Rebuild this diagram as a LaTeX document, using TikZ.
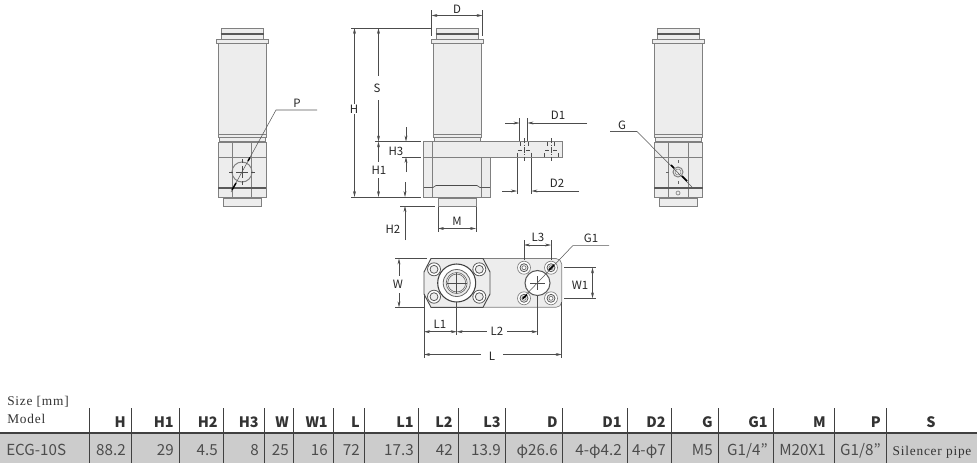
\documentclass[tikz,border=0pt]{standalone}
\usepackage{fontspec}
\setmainfont{Noto Sans CJK JP}
\newfontfamily\serifx[LetterSpace=6]{Liberation Serif}
\usetikzlibrary{arrows.meta}
\definecolor{partfill}{gray}{0.93}
\definecolor{partline}{gray}{0.5}
\definecolor{bandgray}{gray}{0.8}
\definecolor{dimcol}{gray}{0.3}
\definecolor{rulecol}{gray}{0.25}
\definecolor{valcol}{gray}{0.3}
\tikzset{
  part/.style={draw=partline,fill=partfill,line width=0.75pt},
  thin part/.style={draw=partline,line width=0.5pt},
  band/.style={draw=black!65,line width=1.1pt},
  dim/.style={draw=dimcol,line width=0.4pt},
  dimarrow/.style={dim,{Stealth[length=4.5pt,width=2.2pt]}-{Stealth[length=4.5pt,width=2.2pt]}},
  arrowend/.style={dim,-{Stealth[length=4.5pt,width=2.2pt]}},
  lab/.style={font=\fontsize{8.6pt}{10pt}\selectfont,text=black!85,inner sep=0.5pt},
  hdr/.style={font=\fontsize{10.8pt}{12pt}\selectfont\bfseries,text=black!80,anchor=base east,inner sep=0pt},
  val/.style={font=\fontsize{11.4pt}{12pt}\selectfont,text=valcol,anchor=base east,inner sep=0pt},
  sertxt/.style={font=\fontsize{10pt}{11pt}\selectfont\serifx,text=black!80,anchor=base west,inner sep=0pt},
  leader/.style={draw=black!65,line width=0.4pt},
  thick leader/.style={draw=black,line width=1.1pt}
}
% upper cylinder, x = left edge of body
\newcommand{\cylinder}[1]{
  \begin{scope}[shift={(#1,0)}]
    \draw[part] (3.5,28.5) rectangle (45,39.5);
    \draw[band] (2.5,34) -- (46,34);
    \draw[part] (-1.5,39.5) rectangle (50,43.5);
    \draw[part] (0,43.5) rectangle (48.5,134);
    \draw[part] (0,134) rectangle (48.5,137);
    \draw[part] (1,137) rectangle (47.5,141.5);
  \end{scope}
}
\begin{document}
\begin{tikzpicture}[x=0.75pt,y=-0.75pt]
\useasboundingbox (0,0) rectangle (977,469);
\fill[white] (0,0) rectangle (977,469);
%%%%% LEFT VIEW
\cylinder{218}
\draw[part] (218,142) rectangle (266,197);
\draw[thin part] (232,142) -- (232,197) (251,142) -- (251,197) (218,157) -- (266,157);
\draw[band] (218,188) -- (266,188);
\draw[part] (223,198) rectangle (261,206);
\draw[part,fill=none] (242,172) circle (10);
\draw[thin part,draw=black!70] (229,172) -- (233,172) (251,172) -- (255,172) (242,159) -- (242,163) (242,181) -- (242,185) (236,172) -- (248,172) (242,166) -- (242,178);
\coordinate (pfree) at (317,110);
\coordinate (pelbow) at (276,110);
\coordinate (ptip) at (231,192);
\draw[leader] (pfree) -- (pelbow) -- (ptip);
\draw[thick leader] (248,161) -- (250,157.5) (236,183) -- (232,190);
\node[lab] (labP) at (297,103) {P};
%%%%% MIDDLE VIEW
\cylinder{433}
\draw[part] (423.5,141.5) -- (562,141.5) -- (562,157) -- (490,157) -- (490,197) -- (423.5,197) -- cycle;
\draw[thin part] (432,141.5) -- (432,197) (481,157) -- (481,197) (423.5,157) -- (490,157);
\draw[band,line width=1pt] (423.5,187.5) -- (433,187.5) (480,187.5) -- (490,187.5);
\draw[thin part,draw=black!70] (433,187.5) -- (436,185.5) -- (477,185.5) -- (480,187.5);
\draw[part] (438,198) rectangle (476,206);
% holes
\draw[dim,dashed] (517,157) -- (517,150) -- (531.5,150) -- (531.5,157);
\draw[dim,dashed] (544,157) -- (544,150) -- (558,150) -- (558,157);
\draw[dim,dashed] (520,141.5) -- (520,150) (528,141.5) -- (528,150) (547.5,141.5) -- (547.5,150) (554.5,141.5) -- (554.5,150);
\draw[dim,dash pattern=on 4pt off 1pt on 1pt off 1pt] (524,138) -- (524,161) (551,138) -- (551,161);
% dimension: D
\draw[dim] (431.5,10) -- (431.5,36) (482.5,10) -- (482.5,36);
\draw[dimarrow] (431.5,15.5) -- (482.5,15.5);
\node[lab,fill=none] (labD) at (457,9) {D};
% H, S, H1
\draw[dim] (351,28) -- (431.5,28) (375,141.5) -- (421,141.5) (351,197) -- (421,197);
\draw[dimarrow] (354.5,28) -- (354.5,197);
\node[lab,fill=white] (labH) at (354,109) {H};
\draw[dimarrow] (378.5,28) -- (378.5,141.5);
\node[lab,fill=white,inner ysep=6pt] (labS) at (377,88) {S};
\draw[dimarrow] (378.5,141.5) -- (378.5,197);
\node[lab,fill=white,inner ysep=3pt] (labHa) at (379,170) {H1};
% H3
\draw[dim] (402,157) -- (421,157);
\coordinate (h3a) at (406,127);
\coordinate (h3b) at (406,141.5);
\coordinate (h3c) at (406,172);
\coordinate (h3d) at (406,157);
\draw[arrowend] (h3a) -- (h3b);
\draw[arrowend] (h3c) -- (h3d);
\node[lab] (labHc) at (396,151) {H3};
% H2
\draw[dim] (400,206) -- (435,206);
\coordinate (h2a) at (405,182);
\coordinate (h2b) at (405,197);
\coordinate (h2c) at (405,240);
\coordinate (h2d) at (405,206);
\draw[arrowend] (h2a) -- (h2b);
\draw[arrowend] (h2c) -- (h2d);
\node[lab] (labHb) at (393,229) {H2};
% M
\draw[dim] (438,207) -- (438,232) (476,207) -- (476,232);
\draw[dimarrow] (438,228.5) -- (476,228.5);
\node[lab] (labM) at (457,221) {M};
% D1
\draw[dim] (519.5,118) -- (519.5,141) (527.5,118) -- (527.5,141);
\coordinate (da) at (505,123);
\coordinate (db) at (519.5,123);
\coordinate (dc) at (587,123);
\coordinate (dd) at (527.5,123);
\draw[arrowend] (da) -- (db);
\draw[arrowend] (dc) -- (dd);
\node[lab] (labDa) at (558,115) {D1};
% D2
\draw[dim] (517,158) -- (517,194) (531.5,158) -- (531.5,194);
\coordinate (ea) at (502,191);
\coordinate (eb) at (517,191);
\coordinate (ec) at (579,191);
\coordinate (ed) at (531.5,191);
\draw[arrowend] (ea) -- (eb);
\draw[arrowend] (ec) -- (ed);
\node[lab] (labDb) at (557,183) {D2};
%%%%% RIGHT VIEW
\cylinder{654}
\draw[part] (654,142) rectangle (702.5,197);
\draw[thin part] (668.5,142) -- (668.5,197) (688,142) -- (688,197) (654,157) -- (702.5,157);
\draw[band] (654,188) -- (702.5,188);
\draw[part] (659,198) rectangle (697.5,206);
\draw[part,fill=none] (678,172) circle (5);
\draw[part,fill=none,line width=0.4pt] (678,172) circle (3);
\draw[part,fill=none,line width=0.5pt] (678,193) circle (2);
\draw[thin part,draw=black!60] (678,160) -- (678,163) (678,181) -- (678,184) (666,172) -- (669,172);
\coordinate (gfree) at (610,131.5);
\coordinate (gelbow) at (637,131.5);
\coordinate (gtip) at (692,187);
\draw[leader] (gfree) -- (gelbow) -- (gtip);
\draw[thick leader] (671,165) -- (674,168) (682,176) -- (687,181);
\node[lab] (labG) at (622,125) {G};
%%%%% BOTTOM VIEW
\draw[draw=partline,fill=partfill,line width=0.5pt] (483,258.5) -- (556,258.5) .. controls (559,258.5) and (561.7,261) .. (561.7,264) -- (561.7,302) .. controls (561.7,305) and (559,307.3) .. (556,307.3) -- (483,307.3) -- cycle;
\draw[draw=black!70,fill=partfill,line width=0.7pt] (431,258.5) -- (483,258.5) -- (490,272) -- (490,294) -- (483,307.3) -- (431,307.3) -- (424,294) -- (424,272) -- cycle;
\foreach \p in {(434,269.3),(479.3,269.3),(434,296.7),(479.3,296.7)}{
  \draw[draw=black!65,fill=white,line width=0.6pt] \p circle (6.5);
  \draw[draw=black!65,fill=partfill,line width=0.6pt] \p circle (4);
}
\draw[draw=black!75,fill=white,line width=0.8pt] (456.7,283) circle (19);
\draw[draw=black!60,fill=partfill,line width=0.6pt] (456.7,283) circle (13.5);
\draw[draw=black!60,fill=white,line width=0.5pt] (456.7,283) circle (10.5);
\draw[draw=black!60,fill=partfill,line width=0.5pt] (456.7,283) circle (9);
\draw[dim] (447,283) -- (467,283) (456.7,273) -- (456.7,293);
\foreach \p in {(524,267.7),(551,267.7),(524,298.3),(551,298.3)}{
  \draw[draw=black!50,fill=white,line width=0.5pt] \p circle (6.5);
  \draw[draw=black!65,fill=partfill,line width=0.6pt] \p circle (4);
  \draw[draw=black!55,fill=white,line width=0.5pt] \p circle (2);
}
\draw[draw=black!65,fill=white,line width=0.8pt] (537.5,283) circle (12.5);
\draw[dim] (530,283) -- (545,283) (537.5,276) -- (537.5,290);
% G1
\coordinate (hfree) at (609,245.7);
\coordinate (helbow) at (572.7,245.7);
\coordinate (htip) at (522,299);
\draw[leader] (hfree) -- (helbow) -- (htip);
\draw[thick leader] (554,265) -- (549,270) (527,294.5) -- (523,298.5);
\node[lab] (labGa) at (591,238.3) {G1};
% L3
\draw[dim] (524,240) -- (524,260) (551,240) -- (551,260);
\draw[dimarrow] (524,245) -- (551,245);
\node[lab] (labLc) at (538,237.5) {L3};
% W
\draw[dim] (395,258.5) -- (427,258.5) (395,307.3) -- (424,307.3);
\draw[dimarrow] (399,258.5) -- (399,307.3);
\node[lab,fill=white,inner ysep=3pt] (labW) at (398,284.5) {W};
% W1
\draw[dim] (564,267.5) -- (596,267.5) (564,298.3) -- (596,298.3);
\draw[dimarrow] (592.5,267.5) -- (592.5,298.3);
\node[lab] (labWa) at (580,285) {W1};
% L1, L2, L
\draw[dim] (424,294) -- (424,358) (456.7,302) -- (456.7,335) (537.5,296) -- (537.5,335) (561.7,302) -- (561.7,358);
\draw[dimarrow] (424,331.7) -- (456.7,331.7);
\node[lab] (labLa) at (440,324) {L1};
\draw[dimarrow] (456.7,331.7) -- (537.5,331.7);
\node[lab,fill=white,inner xsep=3pt] (labLb) at (497,331.7) {L2};
\draw[dimarrow] (424,354.5) -- (561.7,354.5);
\node[lab,fill=white,inner xsep=6pt] (labL) at (492,356) {L};
%%%%% TABLE
\fill[bandgray] (0,433) rectangle (977,462.5);
\draw[draw=rulecol,line width=1pt] (0,433) -- (977,433);
\foreach \x in {89.5,131,179,223,264,293.7,333,364,418,458,505,562.7,627.3,671,718.7,773,834,886}{
  \draw[draw=rulecol,line width=0.75pt] (\x,408) -- (\x,462.5);
}
\node[sertxt] (sz) at (7,405) {Size [mm]};
\node[sertxt] (md) at (7,423) {Model};
\node[val,anchor=base west] (ecg) at (6,455) {ECG-10S};
\foreach \xr/\h/\v in {126/H/88.2,174/H1/29,218/H2/4.5,259/H3/8,289/W/25,328/W1/16,360/L/72,414/L1/17.3,453/L2/42,501/L3/13.9,558/D/φ26.6,622/D1/4-φ4.2,666/D2/4-φ7,713/G/M5,768/G1/{G1/4”},826/M/M20X1,881/P/{G1/8”}}{
  \node[hdr] at (\xr,427.5) {\h};
  \node[val] at (\xr,455) {\v};
}
\node[hdr,anchor=base] (hS) at (931,427.5) {S};
\node[sertxt,anchor=base] (sp) at (932,455) {Silencer pipe};
\end{tikzpicture}
\end{document}
